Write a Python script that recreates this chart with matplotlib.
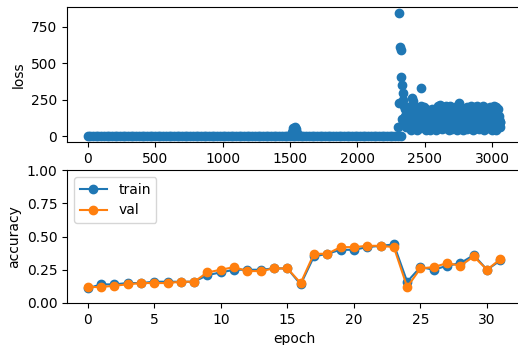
import numpy as np
import matplotlib
matplotlib.use('Agg')
import matplotlib.pyplot as plt

# loss history: early flat part (sampled), a small bump, then the divergent part
iters_early = list(range(0, 2321, 20))
loss_early = [2.30, 2.30, 2.29, 2.30, 2.28, 2.29, 2.30, 2.27, 2.28, 2.29,
              2.30, 2.28, 2.27, 2.29, 2.30, 2.28, 2.29, 2.27, 2.30, 2.28,
              2.29, 2.30, 2.27, 2.28, 2.29, 2.30, 2.28, 2.29, 2.27, 2.30,
              2.28, 2.29, 2.30, 2.27, 2.28, 2.29, 2.30, 2.28, 2.29, 2.27,
              2.30, 2.28, 2.29, 2.30, 2.27, 2.28, 2.29, 2.30, 2.28, 2.29,
              2.27, 2.30, 2.28, 2.29, 2.30, 2.27, 2.28, 2.29, 2.30, 2.28,
              2.29, 2.27, 2.30, 2.28, 2.29, 2.30, 2.27, 2.28, 2.29, 2.30,
              2.28, 2.29, 2.27, 2.30, 2.28, 2.29, 2.30, 2.27, 2.28, 2.29,
              2.30, 2.28, 2.29, 2.27, 2.30, 2.28, 2.29, 2.30, 2.27, 2.28,
              2.29, 2.30, 2.28, 2.29, 2.27, 2.30, 2.28, 2.29, 2.30, 2.27,
              2.28, 2.29, 2.30, 2.28, 2.29, 2.27, 2.30, 2.28, 2.29, 2.30,
              2.27, 2.28, 2.29, 2.30, 2.28, 2.29, 2.30]

iters_bump = [1515, 1525, 1535, 1545, 1555]
loss_bump = [30, 55, 62, 50, 25]

iters_late = list(range(2300, 3061, 5))
loss_late = [60, 230, 845, 610, 590, 405, 350, 300, 250, 210,
             90, 190, 60, 150, 110, 200, 70, 170, 130, 45,
             180, 260, 95, 240, 60, 150, 200, 110, 45, 170,
             80, 190, 130, 55, 210, 330, 100, 160, 60, 200,
             120, 45, 190, 90, 150, 60, 175, 110, 40, 160,
             85, 185, 130, 55, 165, 100, 45, 170, 75, 140,
             205, 60, 150, 215, 95, 50, 180, 120, 200, 70,
             140, 210, 55, 165, 100, 190, 45, 150, 205, 80,
             120, 50, 175, 95, 200, 60, 145, 185, 45, 110,
             210, 230, 70, 160, 100, 195, 45, 135, 180, 60,
             150, 90, 200, 50, 170, 115, 190, 60, 140, 205,
             75, 160, 45, 185, 110, 200, 55, 150, 210, 90,
             130, 50, 195, 100, 165, 60, 205, 120, 45, 180,
             85, 195, 140, 55, 175, 100, 200, 65, 150, 45,
             185, 110, 210, 60, 160, 200, 45, 130, 190, 75,
             140, 100, 60]

# extra mid-band samples of the noisy late phase
iters_mid = list(range(2330, 3061, 10))
loss_mid = [120, 95, 140, 80, 160, 110, 75, 130, 150, 90,
            125, 85, 155, 105, 70, 140, 115, 90, 165, 100,
            80, 135, 115, 150, 95, 70, 125, 145, 85, 110,
            160, 100, 75, 130, 150, 90, 120, 80, 155, 105,
            135, 85, 115, 150, 70, 125, 95, 160, 110, 80,
            145, 100, 130, 75, 120, 155, 90, 110, 140, 85,
            125, 150, 95, 75, 135, 115, 160, 90, 120, 100,
            140, 80, 120, 95]

epochs = list(range(32))
train_acc = [0.11, 0.14, 0.14, 0.15, 0.15, 0.16, 0.16, 0.16, 0.16, 0.21,
             0.23, 0.25, 0.25, 0.25, 0.26, 0.26, 0.14, 0.35, 0.37, 0.40,
             0.40, 0.42, 0.43, 0.44, 0.16, 0.27, 0.25, 0.28, 0.30, 0.36,
             0.25, 0.32]
val_acc = [0.12, 0.12, 0.13, 0.14, 0.15, 0.15, 0.15, 0.16, 0.16, 0.23,
           0.25, 0.27, 0.24, 0.24, 0.26, 0.26, 0.15, 0.37, 0.37, 0.42,
           0.42, 0.43, 0.43, 0.42, 0.12, 0.26, 0.27, 0.30, 0.28, 0.35,
           0.25, 0.33]

iters = np.array(iters_early + iters_bump + iters_late + iters_mid)
loss = np.array(loss_early + loss_bump + loss_late + loss_mid)

DPI = 100
W = 518.0
H = 345.0
fig = plt.figure(figsize=(W/DPI, H/DPI), dpi=DPI)

ax1 = fig.add_axes([67/W, (H-142)/H, 454/W, 135/H])
ax1.plot(iters, loss, 'o')
ax1.set_ylabel('loss')

ax2 = fig.add_axes([67/W, (H-303)/H, 454/W, 133/H])
ax2.plot(epochs, train_acc, '-o', label='train')
ax2.plot(epochs, val_acc, '-o', label='val')
ax2.set_ylim(0, 1)
ax2.set_xlabel('epoch')
ax2.set_ylabel('accuracy')
ax2.legend(loc='upper left')

fig.savefig('out.png', dpi=DPI)
